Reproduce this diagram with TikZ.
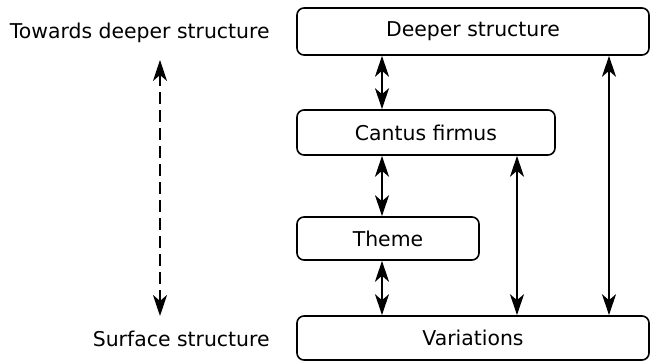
\documentclass[tikz,border=0pt]{standalone}
\usepackage{fontspec}
\setmainfont{DejaVu Sans}
\usetikzlibrary{arrows.meta}
\begin{document}
\begin{tikzpicture}[x=0.5pt,y=-0.5pt,
  >={Stealth[length=10.5pt, width=7pt, inset=3pt]},
  box/.style={draw, line width=0.8pt, rounded corners=3.5pt, inner sep=0pt, font=\fontsize{10.2}{12}\selectfont},
  lbl/.style={anchor=east, inner sep=0pt, font=\fontsize{10.2}{12}\selectfont},
  dbl/.style={line width=0.8pt, <->},
  dsh/.style={line width=0.8pt, <->, dash pattern=on 6pt off 3pt}]
\useasboundingbox (0,0) rectangle (650,362);
\node[box, minimum width=352*0.5pt, minimum height=47*0.5pt] (deeper) at (473,31.5) {Deeper structure};
\node[box, minimum width=258*0.5pt, minimum height=45*0.5pt] (cantus) at (426,132.5) {Cantus firmus};
\node[box, minimum width=182*0.5pt, minimum height=43*0.5pt] (theme) at (388,238.5) {Theme};
\node[box, minimum width=352*0.5pt, minimum height=44*0.5pt] (var) at (473,338) {Variations};
\node[lbl] (towards) at (270,33) {Towards deeper structure};
\node[lbl] (surface) at (270,339) {Surface structure};
\coordinate (dtop) at (160,60);
\coordinate (dbot) at (160,316);
\draw[dsh] (dtop) -- (dbot);
\draw[dbl] (deeper.south -| 382,0) -- (cantus.north -| 382,0);
\draw[dbl] (cantus.south -| 382,0) -- (theme.north -| 382,0);
\draw[dbl] (theme.south -| 382,0) -- (var.north -| 382,0);
\draw[dbl] (cantus.south -| 517,0) -- (var.north -| 517,0);
\draw[dbl] (deeper.south -| 609,0) -- (var.north -| 609,0);
\end{tikzpicture}
\end{document}
